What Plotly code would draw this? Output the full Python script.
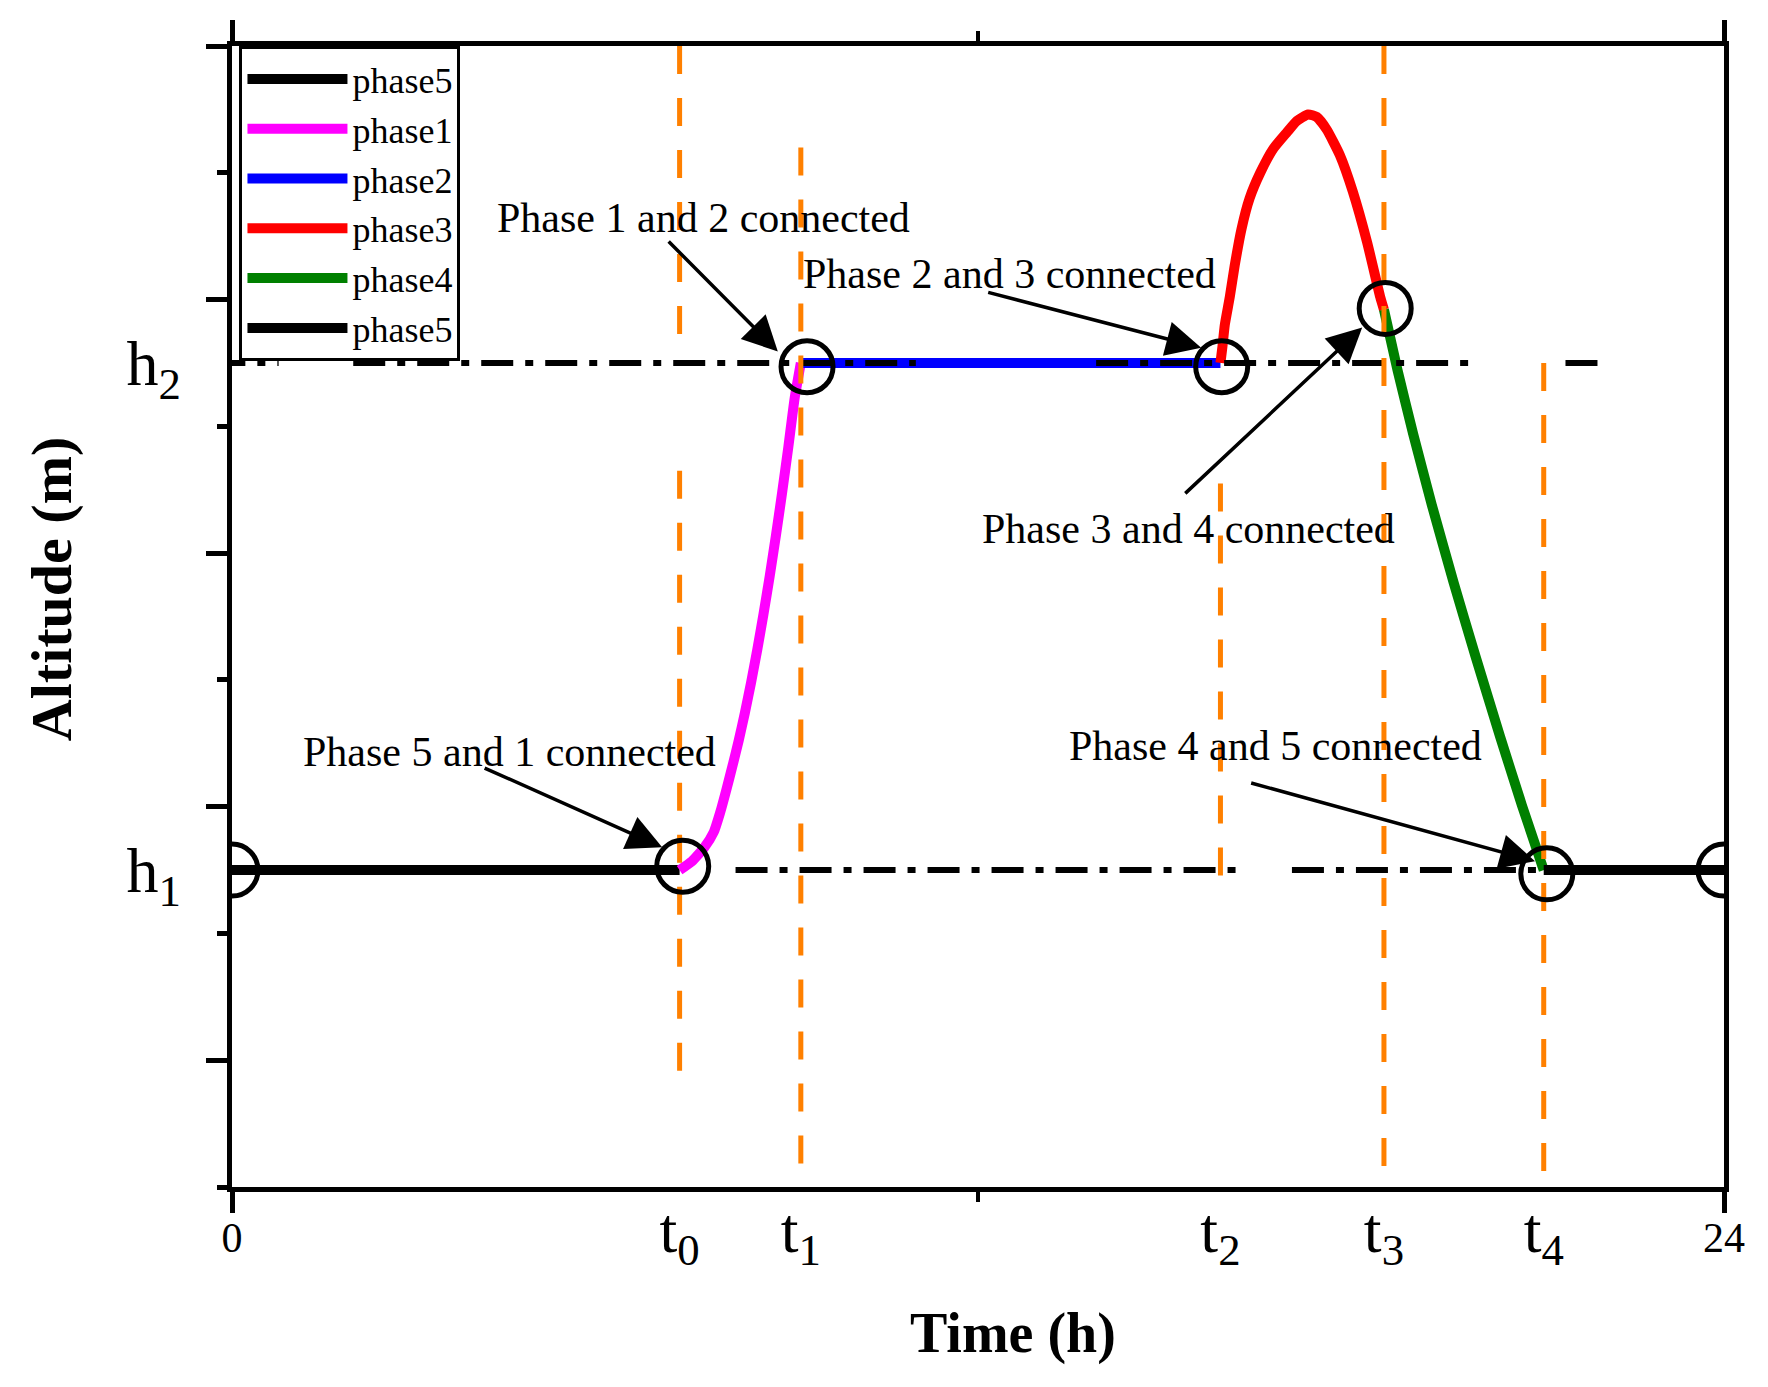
import plotly.graph_objects as go

# ---------------- data ----------------
H1 = 2.5
H2 = 6.5
t_names = ["t0", "t1", "t2", "t3", "t4"]
t_vals = [7.2, 9.15, 15.9, 18.53, 21.1]

phase5a_x = [0, 7.2]
phase5a_y = [2.5, 2.5]

phase1_x = [7.2, 7.4, 7.6, 7.75, 7.85, 7.95, 8.05, 8.15, 8.25, 8.35, 8.45, 8.55, 8.65, 8.75, 8.85, 8.95, 9.05, 9.15]
phase1_y = [2.5, 2.57, 2.68, 2.8, 2.95, 3.13, 3.32, 3.52, 3.74, 3.98, 4.24, 4.52, 4.82, 5.14, 5.48, 5.84, 6.22, 6.5]

phase2_x = [9.15, 15.9]
phase2_y = [6.5, 6.5]

phase3_x = [15.9, 15.93, 15.97, 16.05, 16.13, 16.24, 16.37, 16.54, 16.75, 16.97, 17.13, 17.31,
            17.45, 17.61, 17.82, 18.03, 18.26, 18.47, 18.53]
phase3_y = [6.5, 6.62, 6.8, 7.02, 7.27, 7.56, 7.8, 8.0, 8.19, 8.32, 8.41, 8.46,
            8.44, 8.34, 8.14, 7.85, 7.45, 7.02, 6.92]

phase4_x = [18.53, 18.75, 19.0, 19.3, 19.65, 20.0, 20.4, 20.75, 21.1]
phase4_y = [6.92, 6.44, 5.94, 5.38, 4.77, 4.19, 3.55, 3.01, 2.5]

phase5b_x = [21.1, 24]
phase5b_y = [2.5, 2.5]

# dash-dot reference levels (segments separated by None)
h2_line_x = [-0.3, 0.75, None, 1.95, 11.0, None, 13.9, 19.9, None, 21.45, 22.0]
h1_line_x = [-0.3, 7.0, None, 8.1, 16.25, None, 17.05, 21.1]

# orange vertical time markers: (x, y_top, y_bottom)
vline_x = [7.2, 7.2, 9.15, 15.9, 18.53, 21.1]
vline_top = [9.0, 5.65, 8.2, 5.55, 9.0, 6.5]
vline_bot = [6.6, 0.85, 0.05, 2.45, 0.05, 0.05]

# connection circles
circ_x = [0, 7.25, 9.25, 15.92, 18.55, 21.15, 24]
circ_y = [2.5, 2.53, 6.47, 6.47, 6.93, 2.47, 2.5]

# annotations
ann_text = ["Phase 1 and 2 connected", "Phase 2 and 3 connected", "Phase 3 and 4 connected",
            "Phase 4 and 5 connected", "Phase 5 and 1 connected"]
ann_tx = [7.58, 12.51, 15.38, 16.78, 4.46]
ann_ty = [7.64, 7.2, 5.19, 3.48, 3.43]
arrow_tail_x = [7.0, 12.14, 15.31, 16.37, 4.04]
arrow_tail_y = [7.47, 7.06, 5.46, 3.19, 3.31]
arrow_tip_x = [8.78, 15.59, 18.18, 20.96, 6.92]
arrow_tip_y = [6.59, 6.62, 6.78, 2.57, 2.68]

major_y = [1, 3, 5, 7, 9]
minor_y = [0, 2, 4, 6, 8]

x_title = "Time (h)"
y_title = "Altitude (m)"

FONT = "Liberation Serif"

fig = go.Figure()

curves = [
    ("phase5", phase5a_x, phase5a_y, "#000000"),
    ("phase1", phase1_x, phase1_y, "#ff00ff"),
    ("phase2", phase2_x, phase2_y, "#0000ff"),
    ("phase3", phase3_x, phase3_y, "#ff0000"),
    ("phase4", phase4_x, phase4_y, "#008000"),
    ("phase5", phase5b_x, phase5b_y, "#000000"),
]
for name, xs, ys, col in curves:
    fig.add_trace(go.Scatter(x=xs, y=ys, mode="lines", name=name,
                             line=dict(color=col, width=10, shape="spline", smoothing=0.5),
                             showlegend=True))

fig.add_trace(go.Scatter(x=h2_line_x, y=[H2 if v is not None else None for v in h2_line_x],
                         mode="lines", showlegend=False, connectgaps=False,
                         line=dict(color="black", width=6, dash="32px,12px,8px,12px")))
fig.add_trace(go.Scatter(x=h1_line_x, y=[H1 if v is not None else None for v in h1_line_x],
                         mode="lines", showlegend=False, connectgaps=False,
                         line=dict(color="black", width=6, dash="32px,12px,8px,12px")))

vx, vy = [], []
for x, a, b in zip(vline_x, vline_top, vline_bot):
    vx += [x, x, None]
    vy += [a, b, None]
fig.add_trace(go.Scatter(x=vx, y=vy, mode="lines", showlegend=False, connectgaps=False,
                         xaxis="x2", yaxis="y2",
                         line=dict(color="#ff8000", width=5, dash="28px,24px")))

fig.add_trace(go.Scatter(x=circ_x, y=circ_y, mode="markers", showlegend=False,
                         xaxis="x2", yaxis="y2", cliponaxis=True,
                         marker=dict(symbol="circle-open", size=52, color="black",
                                     line=dict(width=5, color="black"))))

annotations = []
for txt, x, y in zip(ann_text, ann_tx, ann_ty):
    annotations.append(dict(x=x, y=y, xref="x", yref="y", text=txt, showarrow=False,
                            font=dict(family=FONT, size=42, color="black")))
for ax_, ay_, x, y in zip(arrow_tail_x, arrow_tail_y, arrow_tip_x, arrow_tip_y):
    annotations.append(dict(x=x, y=y, xref="x", yref="y", ax=ax_, ay=ay_, axref="x", ayref="y",
                            text="", showarrow=True, arrowhead=2, arrowsize=2.0,
                            arrowwidth=3.5, arrowcolor="black"))
# axis titles (placed like the reference, slightly off-centre)
annotations.append(dict(x=0.5235, y=-0.128, xref="paper", yref="paper",
                        text="<b>%s</b>" % x_title, showarrow=False,
                        xanchor="center", yanchor="middle",
                        font=dict(family=FONT, size=56, color="black")))
annotations.append(dict(x=-0.1213, y=0.524, xref="paper", yref="paper",
                        text="<b>%s</b>" % y_title, showarrow=False, textangle=-90,
                        xanchor="center", yanchor="middle",
                        font=dict(family=FONT, size=58, color="black")))

x_tickvals = [0] + t_vals + [24]
x_ticktext = ['<span style="font-size:42px">0</span>'] + \
             ["t<sub>%s</sub>" % n[1] for n in t_names] + \
             ['<span style="font-size:42px">24</span>']

fig.update_layout(
    width=1768, height=1387,
    margin=dict(l=224, r=52, t=32, b=208),
    paper_bgcolor="white", plot_bgcolor="white",
    font=dict(family=FONT, color="black"),
    annotations=annotations,
    showlegend=True,
    legend=dict(x=0.005, y=1.0, xanchor="left", yanchor="top",
                bgcolor="white", bordercolor="black", borderwidth=3,
                font=dict(family=FONT, size=36, color="black"),
                itemwidth=100, tracegroupgap=0),
    xaxis=dict(range=[0, 24], showline=True, linecolor="black", linewidth=5,
               mirror="allticks", ticks="outside", tickvals=[0, 24], ticklen=21,
               tickwidth=5, tickcolor="black", showticklabels=False,
               showgrid=False, zeroline=False,
               minor=dict(tickvals=[12], ticklen=10, tickwidth=4, ticks="outside",
                          tickcolor="black", showgrid=False)),
    yaxis=dict(range=[0, 9], showline=True, linecolor="black", linewidth=5,
               mirror=True, ticks="outside", tickvals=major_y, ticklen=21,
               tickwidth=5, tickcolor="black", showticklabels=False,
               showgrid=False, zeroline=False,
               minor=dict(tickvals=minor_y, ticklen=10, tickwidth=5, ticks="outside",
                          tickcolor="black", showgrid=False)),
    xaxis2=dict(range=[0, 24], overlaying="x", anchor="y2", side="bottom",
                tickmode="array", tickvals=x_tickvals, ticktext=x_ticktext,
                ticks="", showline=False, showgrid=False, zeroline=False,
                tickfont=dict(family=FONT, size=64, color="black"),
                ticklabelstandoff=0),
    yaxis2=dict(range=[0, 9], overlaying="y", anchor="x2", side="left",
                tickmode="array", tickvals=[H1, H2],
                ticktext=["h<sub>1</sub>", "h<sub>2</sub>"],
                ticks="", showline=False, showgrid=False, zeroline=False,
                tickfont=dict(family=FONT, size=64, color="black"),
                ticklabelstandoff=50),
)

fig.write_html("out.html")
